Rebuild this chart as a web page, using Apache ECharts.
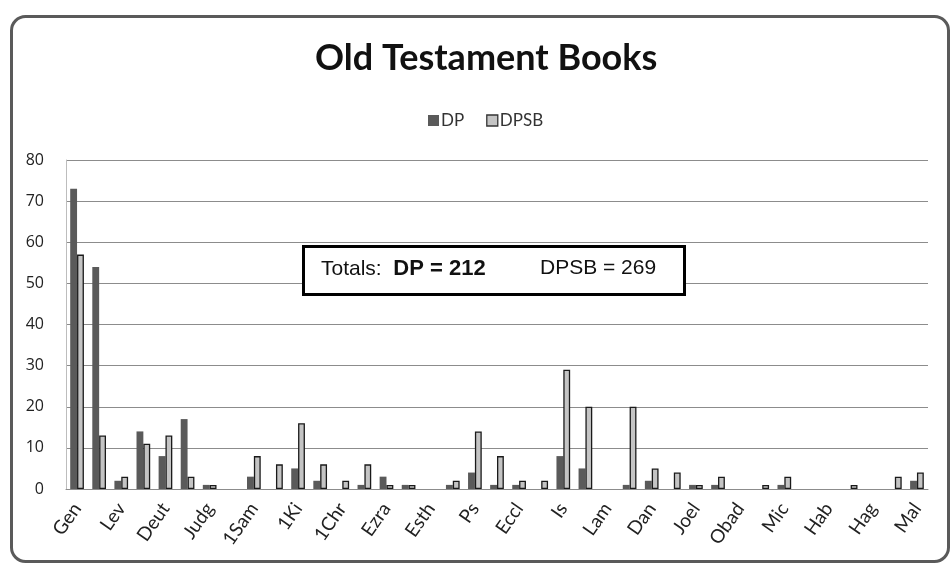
<!DOCTYPE html>
<html>
<head>
<meta charset="utf-8">
<script src="https://cdn.jsdelivr.net/npm/echarts@6/dist/echarts.min.js"></script>
<style>
  html, body { margin: 0; padding: 0; background: #ffffff; }
  #chart { width: 950px; height: 565px; }
</style>
</head>
<body>
<div id="chart"></div>
<script>
// Old Testament books, in canonical order
const books = ['Gen','Ex','Lev','Num','Deut','Josh','Judg','Ruth','1Sam','2Sam','1Ki','2Ki','1Chr','2Chr',
  'Ezra','Neh','Esth','Job','Ps','Prov','Eccl','Song','Is','Jer','Lam','Ezek','Dan','Hos','Joel','Amos',
  'Obad','Jonah','Mic','Nah','Hab','Zeph','Hag','Zech','Mal'];

// Counts per book
const dp   = [73,54,2,14,8,17,1,0,3,0,5,2,0,1,3,1,0,1,4,1,1,0,8,5,0,1,2,0,1,1,0,0,1,0,0,0,0,0,2];
const dpsb = [57,13,3,11,13,3,1,0,8,6,16,6,2,6,1,1,0,2,14,8,2,2,29,20,0,20,5,4,1,3,0,1,3,0,0,1,0,3,4];

// Value axis ticks
const yTicks = [0,10,20,30,40,50,60,70,80];

const sum = a => a.reduce((s, v) => s + v, 0);
const dpTotal = sum(dp);
const dpsbTotal = sum(dpsb);

// Outlined bars: a zero count gets no outline, so nothing shows on the baseline
const dpsbItems = dpsb.map(v => ({
  value: v,
  itemStyle: { borderWidth: v === 0 ? 0 : 1.3 }
}));

const chart = echarts.init(document.getElementById('chart'), null, { renderer: 'canvas' });

chart.setOption({
  backgroundColor: '#ffffff',
  animation: false,
  title: {
    text: 'Old Testament Books',
    left: 310,
    top: 35,
    textStyle: { fontFamily: 'Lato', fontWeight: 'bold', fontSize: 36, color: '#111111' }
  },
  legend: {
    top: 107,
    left: 423,
    icon: 'rect',
    itemWidth: 11,
    itemHeight: 11,
    itemGap: 22,
    textStyle: { fontFamily: 'Lato', fontSize: 17, color: '#333333', padding: [0, 0, 0, -3] },
    data: [
      { name: 'DP', itemStyle: { color: '#5a5a5a' } },
      { name: 'DPSB', itemStyle: { color: '#c4c4c4', borderColor: '#333333', borderWidth: 1.3 } }
    ]
  },
  grid: { left: 66, right: 22, top: 160, bottom: 76 },
  xAxis: {
    type: 'category',
    data: books,
    axisTick: { show: false },
    axisLine: { lineStyle: { color: '#8c8c8c', width: 1 } },
    axisLabel: {
      interval: 1,
      rotate: 55,
      margin: 16,
      fontFamily: 'Lato',
      fontSize: 19,
      color: '#222222'
    }
  },
  yAxis: {
    type: 'value',
    min: yTicks[0],
    max: yTicks[yTicks.length - 1],
    interval: yTicks[1] - yTicks[0],
    axisLine: { show: true, lineStyle: { color: '#bdbdbd', width: 1 } },
    axisTick: { show: false },
    axisLabel: { fontFamily: 'Open Sans', fontSize: 16, color: '#222222', margin: 22 },
    splitLine: { lineStyle: { color: '#8c8c8c', width: 1 } }
  },
  series: [
    {
      name: 'DP',
      type: 'bar',
      data: dp,
      barGap: '0%',
      barCategoryGap: '38%',
      itemStyle: { color: '#5a5a5a' }
    },
    {
      name: 'DPSB',
      type: 'bar',
      data: dpsbItems,
      itemStyle: { color: '#c4c4c4', borderColor: '#1a1a1a', borderWidth: 1.3 }
    }
  ],
  graphic: [
    {
      type: 'rect',
      left: 9, top: 14,
      shape: { width: 937, height: 545, r: 14 },
      style: { fill: 'none', stroke: '#5a5a5a', lineWidth: 3 },
      z: 0
    },
    {
      type: 'rect',
      left: 302, top: 245,
      shape: { width: 381, height: 48 },
      style: { fill: '#ffffff', stroke: '#000000', lineWidth: 3 },
      z: 10
    },
    {
      type: 'text',
      left: 321, top: 258,
      style: {
        text: '{n|Totals:  }{b|DP = ' + dpTotal + '}',
        rich: {
          n: { fontFamily: 'Liberation Sans', fontSize: 21, fill: '#111111' },
          b: { fontFamily: 'Liberation Sans', fontSize: 22, fontWeight: 'bold', fill: '#111111' }
        }
      },
      z: 11
    },
    {
      type: 'text',
      left: 540, top: 258,
      style: {
        text: 'DPSB = ' + dpsbTotal,
        fontFamily: 'Liberation Sans', fontSize: 21, fill: '#111111'
      },
      z: 11
    }
  ]
});
</script>
</body>
</html>
